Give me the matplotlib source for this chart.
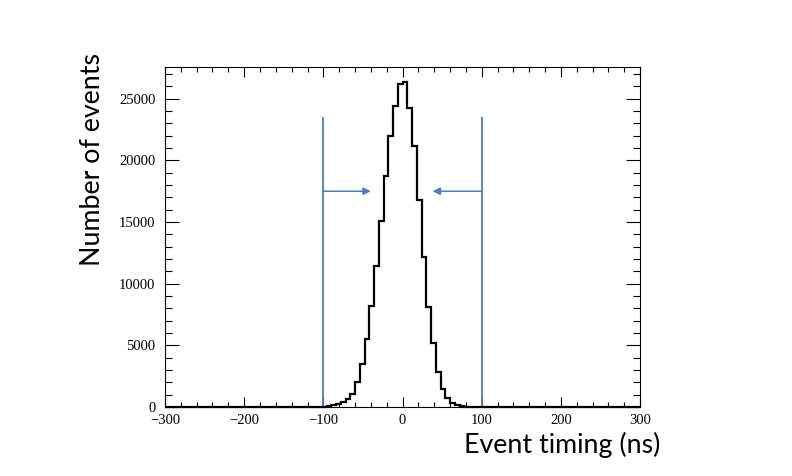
import numpy as np
import matplotlib.pyplot as plt
from matplotlib.ticker import MultipleLocator

# histogram: 6 ns bins from -300 to 300 ns, non-empty bins start at -108 ns
bin_width = 6
first_edge = -108
counts_core = [10, 30, 80, 140, 230, 400, 620, 1080, 2050, 3480, 5530, 8200,
               11450, 15050, 18700, 21970, 24400, 26200, 26350, 24270, 21130,
               16750, 12200, 8150, 5230, 2830, 1460, 760, 330, 140, 60, 25]
x_range = [-300, 300]
y_max = 27600

# timing cut window
cut_low = -100
cut_high = 100
cut_line_top = 23400
arrow_y = 17500
arrow_tips = [-40, 38]

blue = '#4a7ebb'

edges = np.arange(x_range[0], x_range[1] + bin_width, bin_width)
n_left = (first_edge - x_range[0]) // bin_width
n_right = len(edges) - 1 - n_left - len(counts_core)
counts = [0] * n_left + counts_core + [0] * n_right

fig = plt.figure(figsize=(7.92, 4.76), dpi=100)
W, H = 792, 476
ax = fig.add_axes([165 / W, 1 - 407 / H, 475 / W, (407 - 66.7) / H])

ax.stairs(counts, edges, color='black', linewidth=1.6, baseline=0, clip_on=False, zorder=3)

# cut lines and arrows
ax.plot([cut_low, cut_low], [0, cut_line_top], color=blue, linewidth=1.3)
ax.plot([cut_high, cut_high], [0, cut_line_top], color=blue, linewidth=1.3)
ax.annotate('', xy=(arrow_tips[0], arrow_y), xytext=(cut_low, arrow_y),
            arrowprops=dict(arrowstyle='-|>', color=blue, lw=1.1, mutation_scale=11,
                            shrinkA=0, shrinkB=0))
ax.annotate('', xy=(arrow_tips[1], arrow_y), xytext=(cut_high, arrow_y),
            arrowprops=dict(arrowstyle='-|>', color=blue, lw=1.1, mutation_scale=11,
                            shrinkA=0, shrinkB=0))

ax.set_xlim(x_range)
ax.set_ylim(0, y_max)

ax.xaxis.set_major_locator(MultipleLocator(100))
ax.xaxis.set_minor_locator(MultipleLocator(20))
ax.yaxis.set_major_locator(MultipleLocator(5000))
ax.yaxis.set_minor_locator(MultipleLocator(1000))

ax.tick_params(which='both', direction='in', top=True, right=True, width=0.8)
ax.tick_params(axis='x', which='major', length=7.2, pad=5)
ax.tick_params(axis='x', which='minor', length=3.6)
ax.tick_params(axis='y', which='major', length=10.3, pad=7)
ax.tick_params(axis='y', which='minor', length=5.1)
for lab in ax.get_xticklabels() + ax.get_yticklabels():
    lab.set_fontfamily('Liberation Serif')
    lab.set_fontsize(10.5)
for sp in ax.spines.values():
    sp.set_linewidth(0.8)

fig.text(660 / W, 1 - 453 / H, 'Event timing (ns)', ha='right', va='baseline',
         fontsize=19.3, family='Lato')
fig.text(92 / W, 1 - 160 / H, 'Number of events', rotation=90, ha='center', va='center',
         fontsize=19.3, family='Lato')

fig.savefig('out.png', dpi=100)
